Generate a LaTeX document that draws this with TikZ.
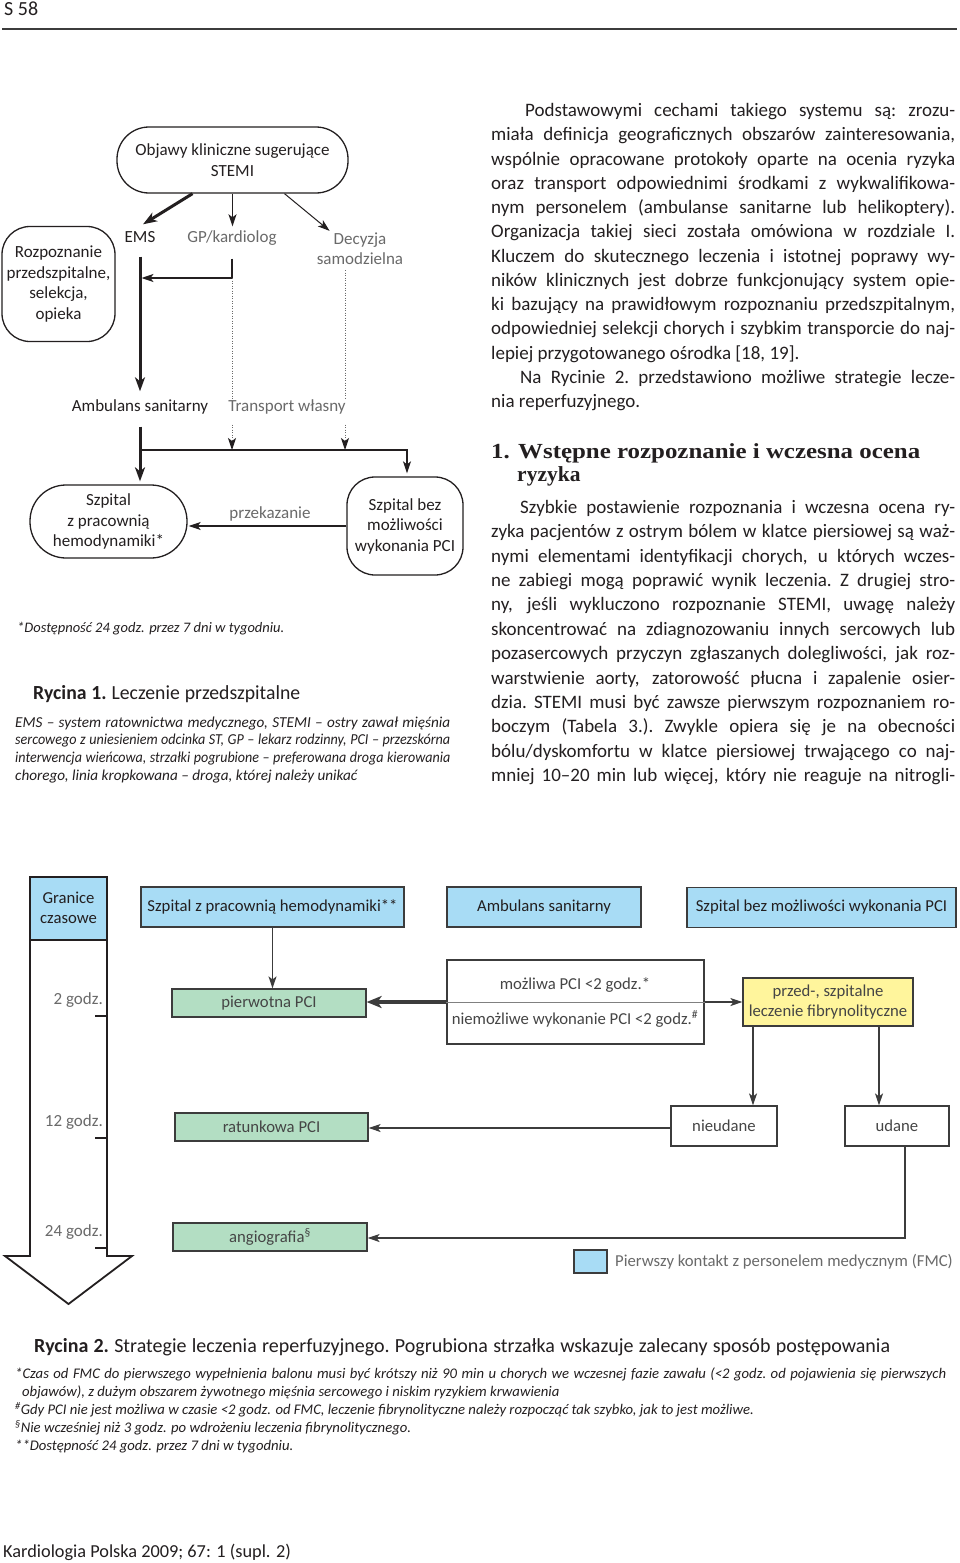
\documentclass[tikz,border=0pt]{standalone}
\usepackage{fontspec}
\setmainfont{Carlito}
\newfontfamily\hfont{Liberation Serif}
\usepackage{graphicx}
\usetikzlibrary{arrows.meta,calc}
\definecolor{txt}{HTML}{231F20}
\definecolor{gtxt}{HTML}{6A6A6A}
\definecolor{dtxt}{HTML}{454545}
\definecolor{bord}{HTML}{3C3C3C}
\definecolor{fblue}{HTML}{A8DCF5}
\definecolor{fgreen}{HTML}{B3DEC3}
\definecolor{fyel}{HTML}{FFF59C}
\newsavebox\jlbox
\newlength\jlw
\newcommand\jline[2][464pt]{\setlength\jlw{#1}%
  \sbox\jlbox{\spaceskip=.25em\xspaceskip=.25em\relax#2}%
  \ifdim\wd\jlbox>\jlw
    \hbox{\resizebox{\jlw}{\ht\jlbox}{\usebox\jlbox}}%
  \else
    \hbox to \jlw{\spaceskip=.25em plus 1fil\xspaceskip=.25em plus 1fil\relax#2}%
  \fi}
\newcommand\natl[1]{\hbox{#1}}
\tikzset{
  lab/.style={inner sep=1pt, text height=12pt, text depth=3pt, font=\fontsize{17}{20.5}\selectfont},
  glab/.style={lab, text=gtxt},
  flowbox/.style={draw=txt, line width=1.3pt, align=center, inner sep=0pt, font=\fontsize{17}{20.5}\selectfont},
  thk/.style={line width=3pt, -{Stealth[length=14pt,width=10pt,inset=4pt]}},
  med/.style={line width=1.4pt, -{Stealth[length=12pt,width=8pt,inset=3pt]}},
  thn/.style={line width=1pt, -{Stealth[length=12pt,width=8pt,inset=3pt]}},
  dotln/.style={line width=0.9pt, gtxt, dash pattern=on 1pt off 1.5pt},
  dotarr/.style={dotln, -{Stealth[length=12pt,width=8pt,inset=3pt,color=txt]}},
  f2/.style={font=\fontsize{16.7}{20}\selectfont},
  hdr/.style={f2, draw=bord, line width=1.2pt, fill=fblue, minimum height=40pt, inner sep=0pt},
  gbox/.style={f2, draw=bord, line width=1.2pt, fill=fgreen, minimum height=28pt, inner sep=0pt, text=dtxt},
  wbox/.style={f2, draw=bord, line width=1.2pt, fill=white, inner sep=0pt, text=dtxt},
  arr/.style={line width=1.3pt, bord, -{Stealth[length=12pt,width=8pt,inset=3pt]}},
  bigarr/.style={line width=3.5pt, bord, -{Stealth[length=15pt,width=12pt,inset=4pt]}},
  tlab/.style={lab, text=gtxt, anchor=east},
  blk/.style={anchor=base west, inner sep=0pt}
}
\begin{document}
\begin{tikzpicture}[x=1pt,y=-1pt,color=txt]
\useasboundingbox (0,0) rectangle (960,1563);
\fill[white] (0,0) rectangle (960,1563);

% ---------- page header ----------
\node[blk, font=\fontsize{20}{22}\selectfont] (pg) at (4,16) {S 58};
\draw[line width=1.5pt, color=bord] (2,29) -- (957,29);

% ---------- Figure 1 ----------
\node[flowbox, minimum width=231pt, minimum height=66pt, rounded corners=32pt] (obj) at (232.5,160) {Objawy kliniczne sugerujące\\STEMI};
\node[flowbox, minimum width=113pt, minimum height=115pt, rounded corners=28pt] (rozp) at (58.5,284) {Rozpoznanie\\przedszpitalne,\\selekcja,\\opieka};
\node[flowbox, minimum width=157pt, minimum height=73pt, rounded corners=36pt] (szp) at (108.5,521.5) {Szpital\\z pracownią\\hemodynamiki*};
\node[flowbox, minimum width=116pt, minimum height=98pt, rounded corners=28pt] (bez) at (405,526) {Szpital bez\\możliwości\\wykonania PCI};

\node[lab] (ems) at (140,238) {EMS};
\node[glab] (gp) at (232,238) {GP/kardiolog};
\node[inner sep=1pt, align=center, font=\fontsize{17}{20}\selectfont, text=gtxt] (dec) at (360,249) {Decyzja\\samodzielna};
\node[lab] (amb) at (140,407) {Ambulans sanitarny};
\node[glab] (trans) at (287,407) {Transport własny};
\node[glab] (prz) at (270,514) {przekazanie};

\coordinate (j1) at (232,278);
\coordinate (hb) at (140,450);
\coordinate (hr) at (407,450);
\coordinate (dx) at (345,270);

\draw[thk] ([xshift=-40pt]obj.south) -- ([xshift=3pt,yshift=5pt]ems.north);
\draw[med, shorten >=3pt] (obj.south) -- (obj.south |- gp.north);
\draw[thn] ([xshift=52pt]obj.south) -- ([xshift=14pt,yshift=1pt]dec.north west);
\draw[thk, shorten <=10pt, shorten >=7pt] (ems.south) -- (ems.south |- amb.north);
\draw[med, shorten <=12pt, shorten >=1.5pt] (gp.south) -- (j1) -- (j1 -| ems.south);
\draw[dotln] (j1) -- (j1 |- trans.north);
\draw[dotln] (dx) -- (dx |- trans.north);
\draw[thk, shorten <=11pt, shorten >=3pt] (amb.south) -- (amb.south |- szp.north);
\draw[dotarr, shorten <=9pt] (j1 |- trans.south) -- (j1 |- hb);
\draw[dotarr, shorten <=9pt] (dx |- trans.south) -- (dx |- hb);
\draw[med, shorten >=3pt] (hb) -- (hr) -- (hr |- bez.north);
\draw[med, shorten >=1pt] (bez.west) -- (bez.west -| szp.east);

\node[blk, font=\itshape\fontsize{14.5}{16}\selectfont] (fn1) at (17,632) {*Dostępność 24 godz. przez 7 dni w tygodniu.};

\node[blk, font=\fontsize{20}{22}\selectfont] (cap1) at (33,699) {\jline[267pt]{\textbf{Rycina 1.} Leczenie przedszpitalne}};
\node[blk, font=\itshape\fontsize{15.2}{17.7}\selectfont] (cap1t) at (15,727) {\vtop{\baselineskip=17.7pt
\jline[435pt]{EMS – system ratownictwa medycznego, STEMI – ostry zawał mięśnia}
\jline[435pt]{sercowego z uniesieniem odcinka ST, GP – lekarz rodzinny, PCI – przezskórna}
\jline[435pt]{interwencja wieńcowa, strzałki pogrubione – preferowana droga kierowania}
\natl{chorego, linia kropkowana – droga, której należy unikać}}};

% ---------- right column text ----------
\node[blk, font=\fontsize{19}{24.27}\selectfont] (col1) at (491,116.5) {\vtop{\baselineskip=24.27pt
\jline{\hspace*{34pt}Podstawowymi cechami takiego systemu są: zrozu-}
\jline{miała definicja geograficznych obszarów zainteresowania,}
\jline{wspólnie opracowane protokoły oparte na ocenia ryzyka}
\jline{oraz transport odpowiednimi środkami z wykwalifikowa-}
\jline{nym personelem (ambulanse sanitarne lub helikoptery).}
\jline{Organizacja takiej sieci została omówiona w rozdziale I.}
\jline{Kluczem do skutecznego leczenia i istotnej poprawy wy-}
\jline{ników klinicznych jest dobrze funkcjonujący system opie-}
\jline{ki bazujący na prawidłowym rozpoznaniu przedszpitalnym,}
\jline{odpowiedniej selekcji chorych i szybkim transporcie do naj-}
\natl{lepiej przygotowanego ośrodka [18, 19].}
\jline{\hspace*{29pt}Na Rycinie 2. przedstawiono możliwe strategie lecze-}
\natl{nia reperfuzyjnego.}}};

\node[blk, font=\hfont\bfseries\fontsize{21.5}{23.4}\selectfont] (head) at (491,458.3) {\vtop{\baselineskip=23.4pt
\hbox{\resizebox{429pt}{\height}{1. Wstępne rozpoznanie i wczesna ocena}}
\hbox{\hspace*{26pt}ryzyka}}};

\node[blk, font=\fontsize{19}{24.4}\selectfont] (col2) at (491,513.3) {\vtop{\baselineskip=24.4pt
\jline{\hspace*{29pt}Szybkie postawienie rozpoznania i wczesna ocena ry-}
\jline{zyka pacjentów z ostrym bólem w klatce piersiowej są waż-}
\jline{nymi elementami identyfikacji chorych, u których wczes-}
\jline{ne zabiegi mogą poprawić wynik leczenia. Z drugiej stro-}
\jline{ny, jeśli wykluczono rozpoznanie STEMI, uwagę należy}
\jline{skoncentrować na zdiagnozowaniu innych sercowych lub}
\jline{pozasercowych przyczyn zgłaszanych dolegliwości, jak roz-}
\jline{warstwienie aorty, zatorowość płucna i zapalenie osier-}
\jline{dzia. STEMI musi być zawsze pierwszym rozpoznaniem ro-}
\jline{boczym (Tabela 3.). Zwykle opiera się je na obecności}
\jline{bólu/dyskomfortu w klatce piersiowej trwającego co naj-}
\jline{mniej 10–20 min lub więcej, który nie reaguje na nitrogli-}}};

% ---------- Figure 2 ----------
\filldraw[line width=1.8pt, fill=white, line join=miter] (30,877) -- (107,877) -- (107,1256) -- (132,1256) -- (68.5,1304) -- (5,1256) -- (30,1256) -- cycle;
\filldraw[line width=1.8pt, fill=fblue] (30,877) rectangle (107,940);
\node[f2, align=center, inner sep=0pt] (gran) at (68.5,908) {Granice\\czasowe};
\draw[line width=2pt] (95,1016) -- (107,1016);
\draw[line width=2pt] (95,1138) -- (107,1138);
\draw[line width=2pt] (95,1248) -- (107,1248);
\node[tlab] (t2) at (104,1000) {2 godz.};
\node[tlab] (t12) at (104,1122) {12 godz.};
\node[tlab] (t24) at (104,1232) {24 godz.};

\node[hdr, minimum width=263pt] (h1) at (272.5,907) {Szpital z pracownią hemodynamiki**};
\node[hdr, minimum width=194pt] (h2) at (544,907) {Ambulans sanitarny};
\node[hdr, minimum width=269pt] (h3) at (821.5,907.5) {Szpital bez możliwości wykonania PCI};

\node[gbox, minimum width=194pt] (ppci) at (269,1003) {pierwotna PCI};
\node[wbox, minimum width=257pt, minimum height=84pt] (mid) at (575.5,1002) {};
\draw[line width=0.8pt, color=gray] (mid.west) -- (mid.east);
\node[lab, f2, text=dtxt] (m1) at (575,985) {możliwa PCI <2 godz.*};
\node[lab, f2, text=dtxt] (m2) at (575,1020) {niemożliwe wykonanie PCI <2 godz.\textsuperscript{\#}};
\node[wbox, fill=fyel, minimum width=170pt, minimum height=48pt, align=center, font=\fontsize{16.7}{19.5}\selectfont] (ylw) at (828,1002) {przed-, szpitalne\\leczenie fibrynolityczne};
\node[wbox, minimum width=106pt, minimum height=40pt] (nie) at (724,1126) {nieudane};
\node[wbox, minimum width=104pt, minimum height=40pt] (uda) at (897,1126) {udane};
\node[gbox, minimum width=193pt] (rat) at (271.5,1127) {ratunkowa PCI};
\node[gbox, minimum width=194pt] (ang) at (270,1237) {angiografia\textsuperscript{§}};

\draw[arr] (h1.south) -- (h1.south |- ppci.north);
\draw[bigarr] (mid.west) -- (mid.west -| ppci.east);
\draw[arr] (mid.east) -- (ylw.west);
\draw[arr] ([xshift=-75pt]ylw.south) -- ([xshift=-75pt]ylw.south |- nie.north);
\draw[arr] ([xshift=51pt]ylw.south) -- ([xshift=51pt]ylw.south |- uda.north);
\draw[arr] ([yshift=-2pt]nie.west) -- ([yshift=-2pt]nie.west -| rat.east);
\draw[arr] ([xshift=8pt]uda.south) |- ([yshift=-1pt]ang.east);

\node[draw=bord, line width=1.2pt, fill=fblue, minimum width=33pt, minimum height=23pt, inner sep=0pt] (leg) at (590.5,1261.5) {};
\node[lab, f2, text=gtxt, anchor=west] (legt) at (614,1262) {Pierwszy kontakt z personelem medycznym (FMC)};

% ---------- caption 2 ----------
\node[blk, font=\fontsize{20}{22}\selectfont] (cap2) at (34,1352) {\jline[856pt]{\textbf{Rycina 2.} Strategie leczenia reperfuzyjnego. Pogrubiona strzałka wskazuje zalecany sposób postępowania}};
\node[blk, font=\itshape\fontsize{14.7}{18.2}\selectfont] (fn2) at (15,1378) {\vtop{\baselineskip=18.2pt
\jline[931pt]{*Czas od FMC do pierwszego wypełnienia balonu musi być krótszy niż 90 min u chorych we wczesnej fazie zawału (<2 godz. od pojawienia się pierwszych}
\natl{\hspace*{7pt}objawów), z dużym obszarem żywotnego mięśnia sercowego i niskim ryzykiem krwawienia}
\natl{\textsuperscript{\#}Gdy PCI nie jest możliwa w czasie <2 godz. od FMC, leczenie fibrynolityczne należy rozpocząć tak szybko, jak to jest możliwe.}
\natl{\textsuperscript{§}Nie wcześniej niż 3 godz. po wdrożeniu leczenia fibrynolitycznego.}
\natl{**Dostępność 24 godz. przez 7 dni w tygodniu.}}};

% ---------- footer ----------
\node[blk, font=\fontsize{18.3}{20}\selectfont] (foot) at (3,1557) {Kardiologia Polska 2009; 67: 1 (supl. 2)};
\end{tikzpicture}
\end{document}
